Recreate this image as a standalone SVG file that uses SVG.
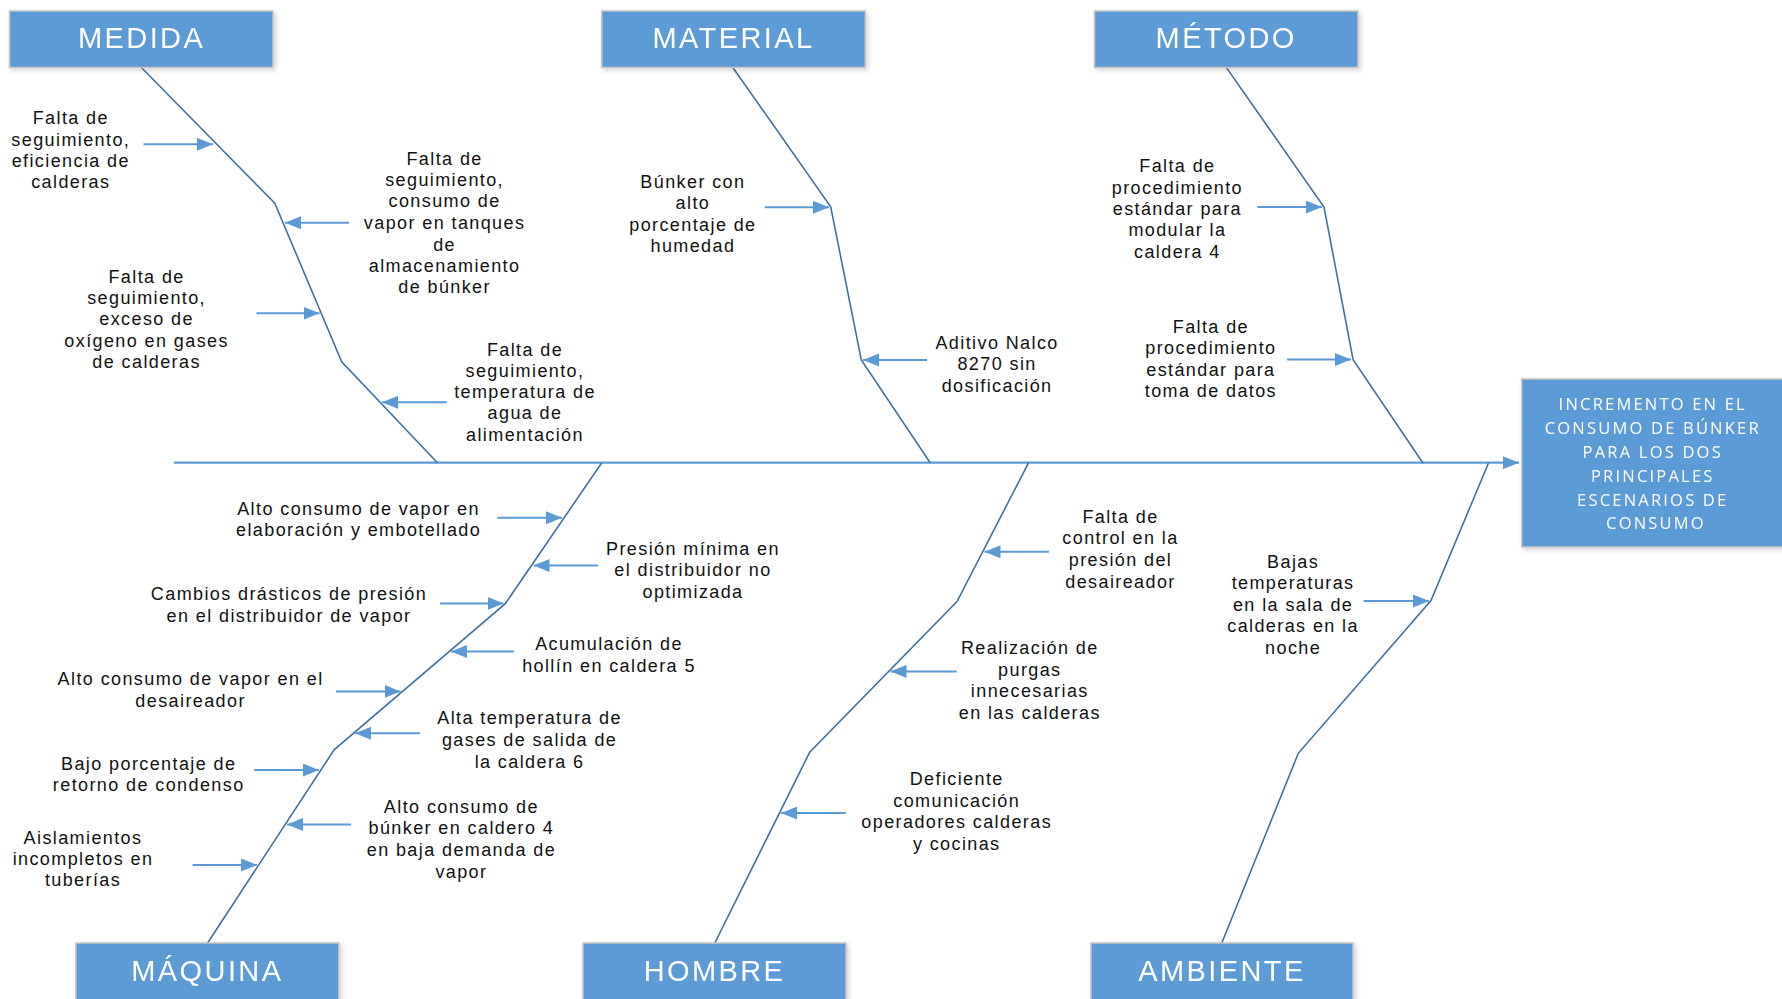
<svg xmlns="http://www.w3.org/2000/svg" width="1782" height="999" viewBox="0 0 1782 999">
  <style>
    .cat rect { fill: #5B9BD5; stroke: #C6C6C6; stroke-width: 1.5; }
    .cat text { font-family: "Liberation Sans", Arial, sans-serif; font-size: 29px; letter-spacing: 2.4px; fill: #FFFFFF; text-anchor: middle; }
    .spine { fill: none; stroke: #41719C; stroke-width: 1.6; stroke-linejoin: miter; }
    .main { fill: none; stroke: #5B9BD5; stroke-width: 2.2; }
    .cause { fill: none; stroke: #5B9BD5; stroke-width: 2; }
    .lbl { font-family: "Liberation Sans", Arial, sans-serif; font-size: 18px; letter-spacing: 1.4px; fill: #111111; text-anchor: middle; }
    .effect rect { fill: #5B9BD5; stroke: #C6C6C6; stroke-width: 1.5; }
    .effect text { font-family: "Open Sans", "Noto Sans", sans-serif; font-size: 16.5px; letter-spacing: 2.2px; fill: #FFFFFF; text-anchor: middle; }
  </style>
  <defs>
    <filter id="shadow" x="-10%" y="-20%" width="130%" height="160%">
      <feDropShadow dx="2" dy="2" stdDeviation="2.5" flood-color="#000000" flood-opacity="0.18"/>
    </filter>
    <marker id="head" viewBox="0 0 16 13" refX="16" refY="6.5" markerWidth="16" markerHeight="13" markerUnits="userSpaceOnUse" orient="auto">
      <path d="M0,0 L16,6.5 L0,13 Z" fill="#5B9BD5"/>
    </marker>
  </defs>

  <rect width="1782" height="999" fill="#FFFFFF"/>

  <!-- spine and bones -->
  <g id="connectors">
    <path class="main" d="M174,462.7 L1519,462.7" marker-end="url(#head)"/>
    <path class="spine" d="M141.6,67.7 L274.8,203.3 L341.7,361.7 L437.4,462.7"/>
    <path class="spine" d="M733,67.7 L830.7,206.7 L861.3,360 L930.2,462.7"/>
    <path class="spine" d="M1226.1,67.1 L1324,207.1 L1353.1,359.6 L1423.1,463.2"/>
    <path class="spine" d="M601.8,462.7 L505.3,603.7 L334.1,749.8 L207.6,943"/>
    <path class="spine" d="M1028.6,462.7 L957,601.6 L809.7,752.2 L714.8,943"/>
    <path class="spine" d="M1488.4,463.2 L1431,600.5 L1298.3,753.3 L1221.8,943"/>

    <!-- cause arrows -->
    <g marker-end="url(#head)">
      <path class="cause" d="M143.5,144.3 L213,144.3"/>
      <path class="cause" d="M349,222.7 L285,222.7"/>
      <path class="cause" d="M256.4,313.3 L319.5,313.3"/>
      <path class="cause" d="M446.6,402.3 L382,402.3"/>
      <path class="cause" d="M764.8,207.3 L829,207.3"/>
      <path class="cause" d="M927,360 L863,360"/>
      <path class="cause" d="M1257.4,207.1 L1322,207.1"/>
      <path class="cause" d="M1287,359.6 L1351,359.6"/>
      <path class="cause" d="M497.4,517.8 L562,517.8"/>
      <path class="cause" d="M598.2,565.5 L533.5,565.5"/>
      <path class="cause" d="M440,603.4 L503.5,603.4"/>
      <path class="cause" d="M514,651.5 L451,651.5"/>
      <path class="cause" d="M336,691.4 L400.5,691.4"/>
      <path class="cause" d="M420,733.3 L355,733.3"/>
      <path class="cause" d="M254.2,770.1 L319,770.1"/>
      <path class="cause" d="M351.1,824.4 L287,824.4"/>
      <path class="cause" d="M192.6,865 L257,865"/>
      <path class="cause" d="M1048.9,551.8 L984.5,551.8"/>
      <path class="cause" d="M956.7,671.4 L890.5,671.4"/>
      <path class="cause" d="M845.7,813.1 L781,813.1"/>
      <path class="cause" d="M1363.6,601 L1429,601"/>
    </g>
  </g>

  <!-- category headers -->
  <g id="medida" class="cat" filter="url(#shadow)">
    <rect x="9.5" y="11" width="263.5" height="56.5"/>
    <text x="141.6" y="48">MEDIDA</text>
  </g>
  <g id="material" class="cat" filter="url(#shadow)">
    <rect x="601.8" y="11" width="263.5" height="56.5"/>
    <text x="733.5" y="48">MATERIAL</text>
  </g>
  <g id="metodo" class="cat" filter="url(#shadow)">
    <rect x="1094.5" y="11" width="263.5" height="56.5"/>
    <text x="1226.2" y="48">MÉTODO</text>
  </g>
  <g id="maquina" class="cat" filter="url(#shadow)">
    <rect x="75.9" y="943" width="263" height="58"/>
    <text x="207.4" y="980.5">MÁQUINA</text>
  </g>
  <g id="hombre" class="cat" filter="url(#shadow)">
    <rect x="583" y="943" width="263" height="58"/>
    <text x="714.5" y="980.5">HOMBRE</text>
  </g>
  <g id="ambiente" class="cat" filter="url(#shadow)">
    <rect x="1091" y="943" width="262" height="58"/>
    <text x="1222" y="980.5">AMBIENTE</text>
  </g>

  <!-- effect -->
  <g id="efecto" class="effect" filter="url(#shadow)">
    <rect x="1521.7" y="379" width="275" height="168"/>
    <text>
      <tspan x="1656" y="410">INCREMENTO EN EL</tspan>
      <tspan x="1656" y="433.5">CONSUMO DE BÚNKER</tspan>
      <tspan x="1656" y="457.5">PARA LOS DOS</tspan>
      <tspan x="1656" y="481.5">PRINCIPALES</tspan>
      <tspan x="1656" y="505.5">ESCENARIOS DE</tspan>
      <tspan x="1656" y="529">CONSUMO</tspan>
    </text>
  </g>

  <!-- causes: MEDIDA -->
  <g id="c-medida-1">
    <text class="lbl"><tspan x="70.8" y="124">Falta de</tspan><tspan x="70.8" y="145.5">seguimiento,</tspan><tspan x="70.8" y="166.8">eficiencia de</tspan><tspan x="70.8" y="188.3">calderas</tspan></text>
  </g>
  <g id="c-medida-2">
    <text class="lbl"><tspan x="444.6" y="165">Falta de</tspan><tspan x="444.6" y="186.2">seguimiento,</tspan><tspan x="444.6" y="207.4">consumo de</tspan><tspan x="444.6" y="229">vapor en tanques</tspan><tspan x="444.6" y="250.6">de</tspan><tspan x="444.6" y="272">almacenamiento</tspan><tspan x="444.6" y="293.3">de búnker</tspan></text>
  </g>
  <g id="c-medida-3">
    <text class="lbl"><tspan x="146.6" y="282.7">Falta de</tspan><tspan x="146.6" y="304">seguimiento,</tspan><tspan x="146.6" y="325.2">exceso de</tspan><tspan x="146.6" y="346.7">oxígeno en gases</tspan><tspan x="146.6" y="368.2">de calderas</tspan></text>
  </g>
  <g id="c-medida-4">
    <text class="lbl"><tspan x="525" y="355.7">Falta de</tspan><tspan x="525" y="376.8">seguimiento,</tspan><tspan x="525" y="398.2">temperatura de</tspan><tspan x="525" y="419.4">agua de</tspan><tspan x="525" y="440.7">alimentación</tspan></text>
  </g>

  <!-- causes: MATERIAL -->
  <g id="c-material-1">
    <text class="lbl"><tspan x="692.9" y="188.3">Búnker con</tspan><tspan x="692.9" y="209.4">alto</tspan><tspan x="692.9" y="231">porcentaje de</tspan><tspan x="692.9" y="251.8">humedad</tspan></text>
  </g>
  <g id="c-material-2">
    <text class="lbl"><tspan x="997.1" y="349">Aditivo Nalco</tspan><tspan x="997.1" y="370.2">8270 sin</tspan><tspan x="997.1" y="391.7">dosificación</tspan></text>
  </g>

  <!-- causes: MÉTODO -->
  <g id="c-metodo-1">
    <text class="lbl"><tspan x="1177.4" y="172.1">Falta de</tspan><tspan x="1177.4" y="193.5">procedimiento</tspan><tspan x="1177.4" y="215">estándar para</tspan><tspan x="1177.4" y="236.4">modular la</tspan><tspan x="1177.4" y="257.8">caldera 4</tspan></text>
  </g>
  <g id="c-metodo-2">
    <text class="lbl"><tspan x="1210.9" y="332.8">Falta de</tspan><tspan x="1210.9" y="354.3">procedimiento</tspan><tspan x="1210.9" y="375.7">estándar para</tspan><tspan x="1210.9" y="397.1">toma de datos</tspan></text>
  </g>

  <!-- causes: MÁQUINA -->
  <g id="c-maquina-1">
    <text class="lbl"><tspan x="358.6" y="515">Alto consumo de vapor en</tspan><tspan x="358.6" y="536.3">elaboración y embotellado</tspan></text>
  </g>
  <g id="c-maquina-2">
    <text class="lbl"><tspan x="693" y="554.5">Presión mínima en</tspan><tspan x="693" y="575.9">el distribuidor no</tspan><tspan x="693" y="597.5">optimizada</tspan></text>
  </g>
  <g id="c-maquina-3">
    <text class="lbl"><tspan x="289" y="600.3">Cambios drásticos de presión</tspan><tspan x="289" y="621.6">en el distribuidor de vapor</tspan></text>
  </g>
  <g id="c-maquina-4">
    <text class="lbl"><tspan x="609" y="650">Acumulación de</tspan><tspan x="609" y="671.8">hollín en caldera 5</tspan></text>
  </g>
  <g id="c-maquina-5">
    <text class="lbl"><tspan x="190.6" y="685.2">Alto consumo de vapor en el</tspan><tspan x="190.6" y="706.5">desaireador</tspan></text>
  </g>
  <g id="c-maquina-6">
    <text class="lbl"><tspan x="529.6" y="724">Alta temperatura de</tspan><tspan x="529.6" y="746">gases de salida de</tspan><tspan x="529.6" y="767.7">la caldera 6</tspan></text>
  </g>
  <g id="c-maquina-7">
    <text class="lbl"><tspan x="148.7" y="770.4">Bajo porcentaje de</tspan><tspan x="148.7" y="791">retorno de condenso</tspan></text>
  </g>
  <g id="c-maquina-8">
    <text class="lbl"><tspan x="461.4" y="813">Alto consumo de</tspan><tspan x="461.4" y="834.2">búnker en caldero 4</tspan><tspan x="461.4" y="856">en baja demanda de</tspan><tspan x="461.4" y="877.7">vapor</tspan></text>
  </g>
  <g id="c-maquina-9">
    <text class="lbl"><tspan x="83" y="844">Aislamientos</tspan><tspan x="83" y="865">incompletos en</tspan><tspan x="83" y="886.3">tuberías</tspan></text>
  </g>

  <!-- causes: HOMBRE -->
  <g id="c-hombre-1">
    <text class="lbl"><tspan x="1120.5" y="522.9">Falta de</tspan><tspan x="1120.5" y="544.2">control en la</tspan><tspan x="1120.5" y="566.3">presión del</tspan><tspan x="1120.5" y="587.9">desaireador</tspan></text>
  </g>
  <g id="c-hombre-2">
    <text class="lbl"><tspan x="1029.8" y="653.6">Realización de</tspan><tspan x="1029.8" y="675.9">purgas</tspan><tspan x="1029.8" y="697.2">innecesarias</tspan><tspan x="1029.8" y="718.5">en las calderas</tspan></text>
  </g>
  <g id="c-hombre-3">
    <text class="lbl"><tspan x="956.7" y="784.9">Deficiente</tspan><tspan x="956.7" y="806.5">comunicación</tspan><tspan x="956.7" y="827.9">operadores calderas</tspan><tspan x="956.7" y="849.5">y cocinas</tspan></text>
  </g>

  <!-- causes: AMBIENTE -->
  <g id="c-ambiente-1">
    <text class="lbl"><tspan x="1293.1" y="567.7">Bajas</tspan><tspan x="1293.1" y="589">temperaturas</tspan><tspan x="1293.1" y="610.7">en la sala de</tspan><tspan x="1293.1" y="632.3">calderas en la</tspan><tspan x="1293.1" y="654">noche</tspan></text>
  </g>
</svg>
